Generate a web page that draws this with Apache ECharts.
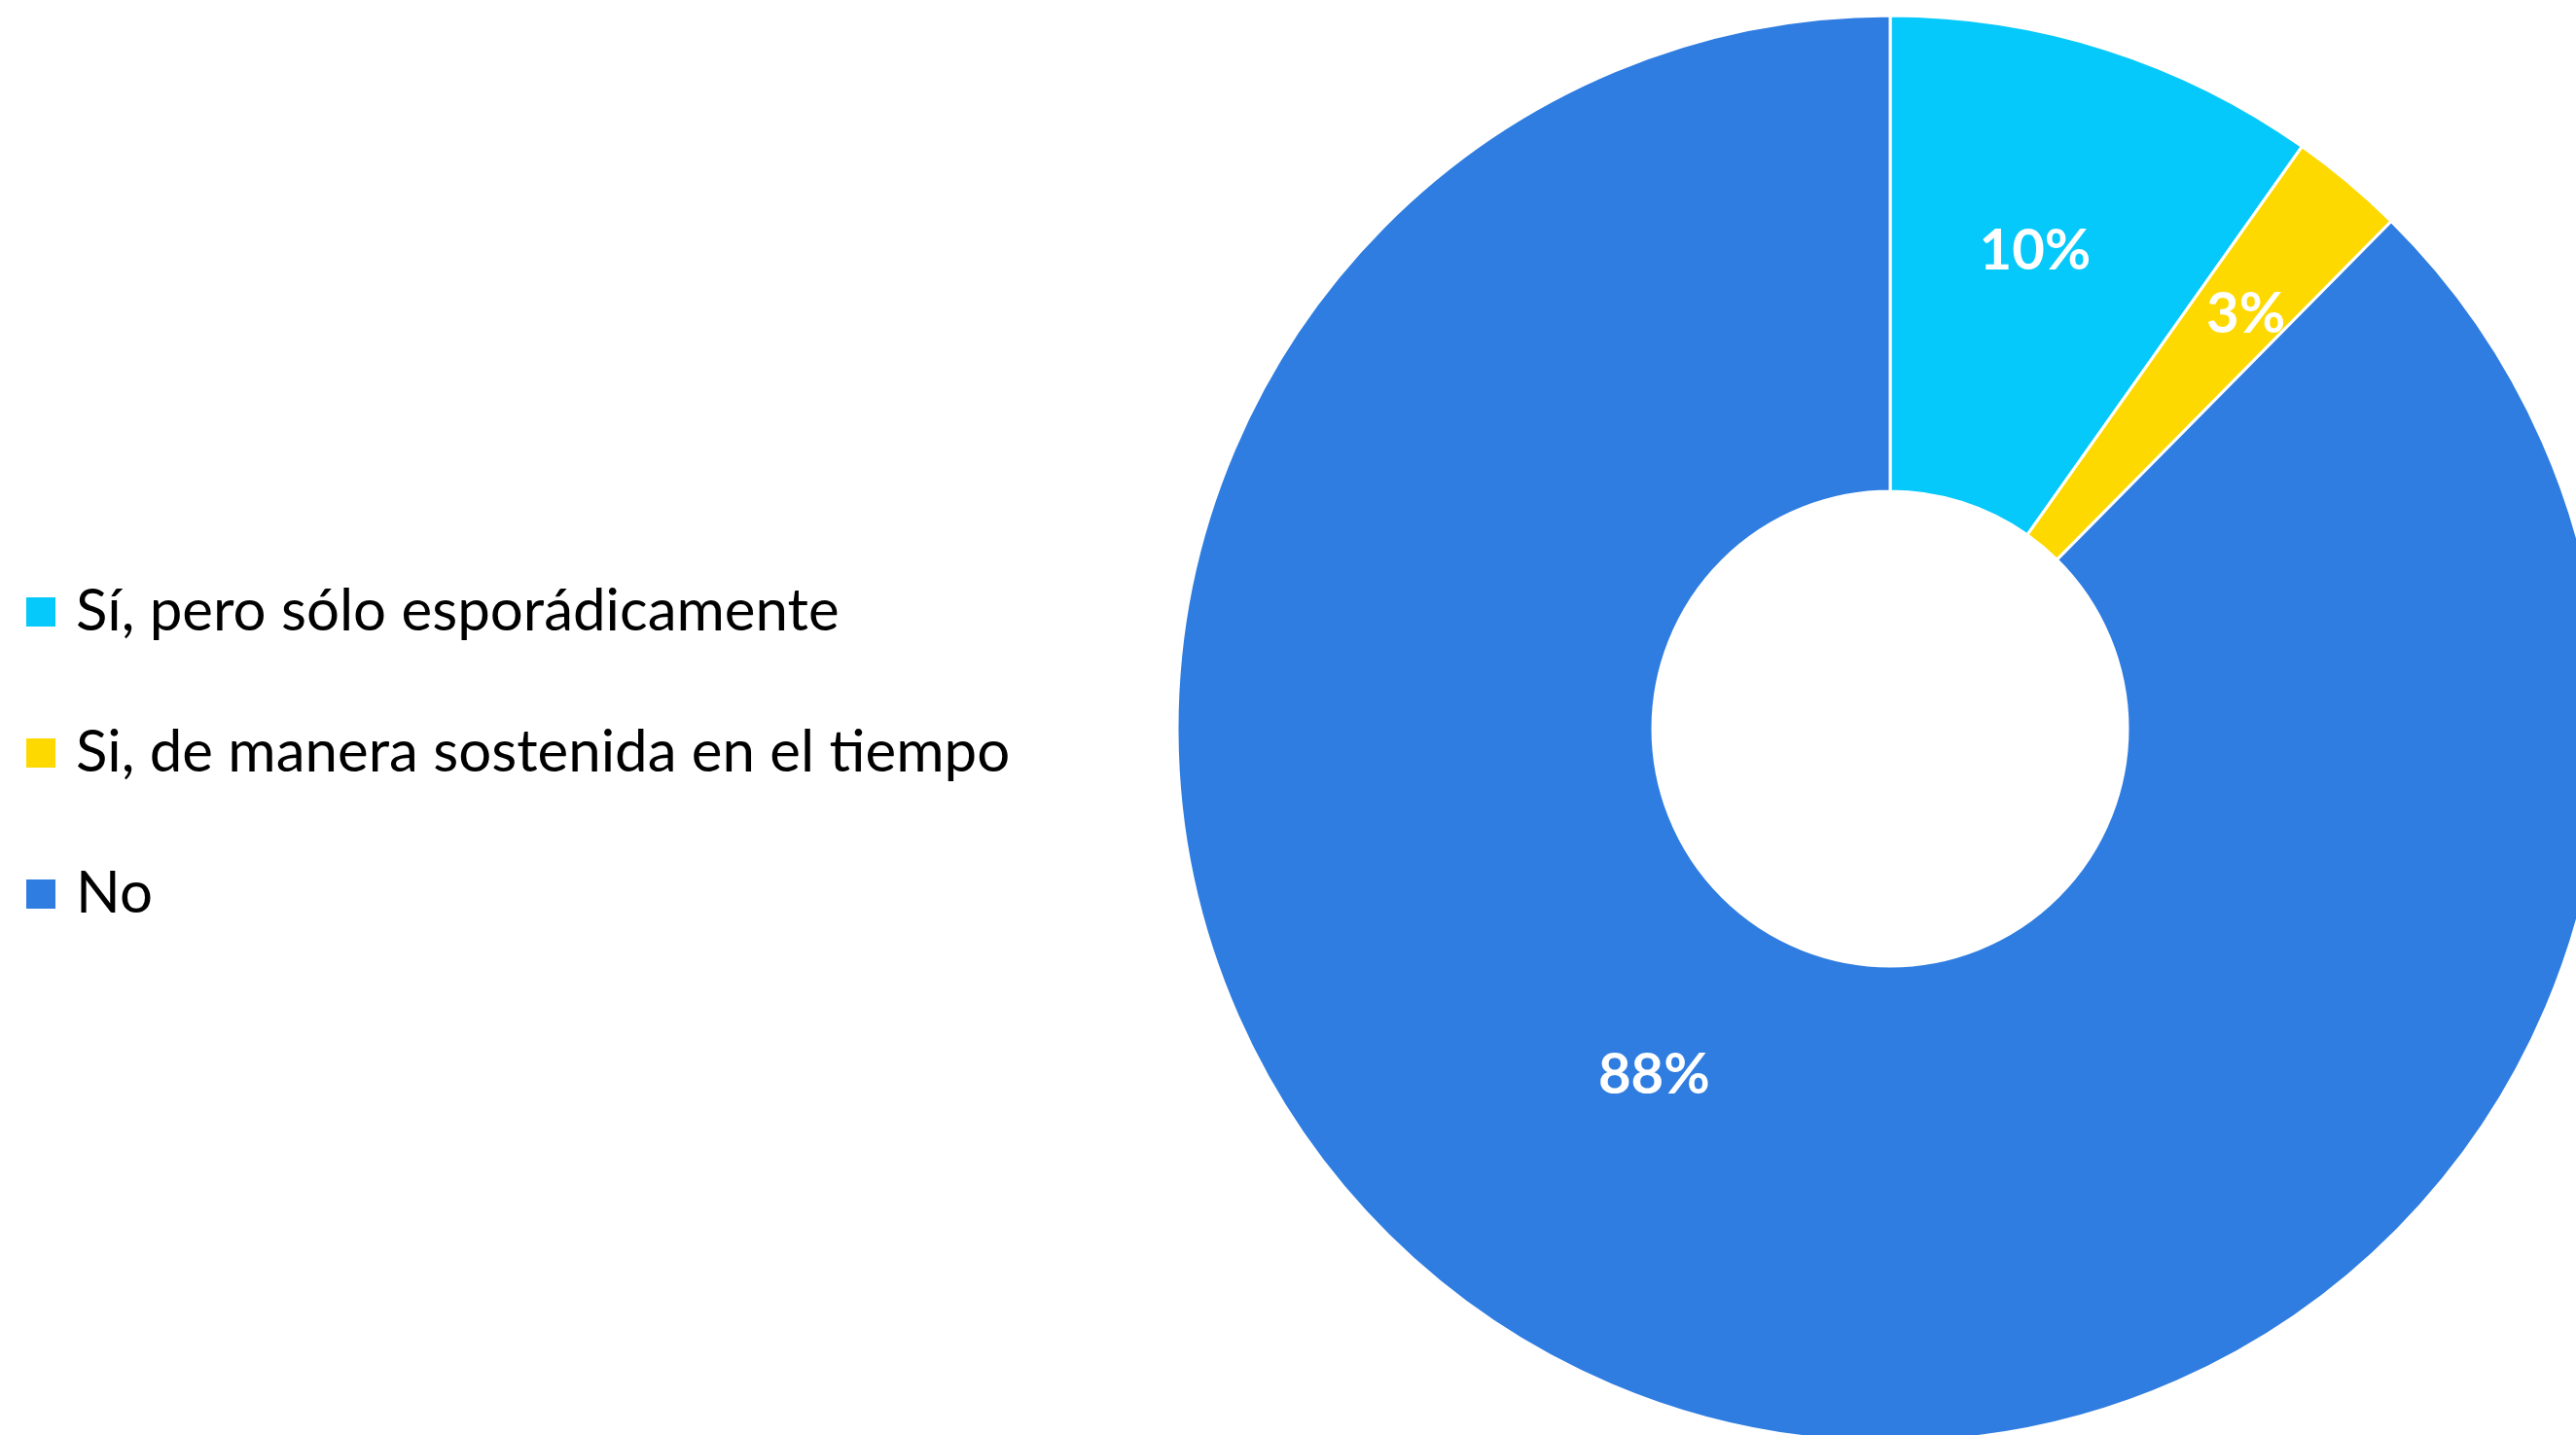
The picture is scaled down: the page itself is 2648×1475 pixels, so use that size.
<!DOCTYPE html>
<html>
<head>
<meta charset="utf-8">
<script src="https://cdn.jsdelivr.net/npm/echarts@6/dist/echarts.min.js"></script>
<style>
    html, body { margin: 0; padding: 0; background: #fff; }
    #chart { width: 2648px; height: 1475px; }
</style>
</head>
<body>
<div id="chart"></div>
<script>
// answers and their share of respondents (%)
const categories = ['Sí, pero sólo esporádicamente', 'Si, de manera sostenida en el tiempo', 'No'];
const values = [9.8, 2.6, 87.6];
const colors = ['#05C9FB', '#FDD900', '#2F7DE1'];
// nudge labels to where the original puts them
const labelOffsets = [[0, -22], [50, -49], [-56, -98]];

const chart = echarts.init(document.getElementById('chart'));
chart.setOption({
    backgroundColor: '#ffffff',
    animation: false,
    legend: {
        orient: 'vertical',
        left: 22,
        top: 592,
        icon: 'rect',
        itemWidth: 30,
        itemHeight: 30,
        itemGap: 81,
        itemStyle: { borderWidth: 0 },
        textStyle: {
            fontFamily: 'Lato',
            fontSize: 60,
            lineHeight: 64,
            color: '#000',
            padding: [0, 0, 0, 16]
        },
        data: categories
    },
    series: [
        {
            type: 'pie',
            center: [1943, 749],
            radius: [244, 733],
            startAngle: 90,
            clockwise: true,
            avoidLabelOverlap: false,
            itemStyle: {
                borderColor: '#ffffff',
                borderWidth: 3
            },
            label: {
                show: true,
                position: 'inside',
                fontFamily: 'Lato',
                fontWeight: 'bold',
                fontSize: 58,
                color: '#ffffff',
                formatter: ({ percent }) => Math.round(percent) + '%'
            },
            labelLine: { show: false },
            data: categories.map((name, i) => ({
                name,
                value: values[i],
                itemStyle: { color: colors[i] },
                label: { offset: labelOffsets[i] }
            }))
        }
    ]
});
</script>
</body>
</html>
